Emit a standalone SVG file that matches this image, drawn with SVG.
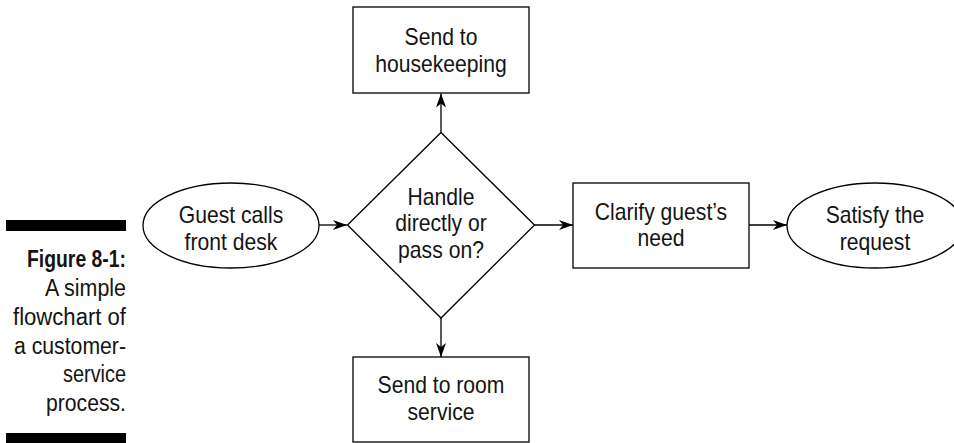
<svg xmlns="http://www.w3.org/2000/svg" width="954" height="443" viewBox="0 0 954 443">
  <style>
    .shape { fill: #ffffff; stroke: #000000; stroke-width: 1.3; }
    .edge { fill: none; stroke: #000000; stroke-width: 1.3; }
    .label { font-family: "Liberation Sans", Arial, sans-serif; font-size: 23px; fill: #141414; text-anchor: middle; }
    .cap { font-family: "Liberation Sans", Arial, sans-serif; font-size: 23px; fill: #141414; text-anchor: end; }
    .cap-b { font-weight: bold; }
  </style>
  <defs>
    <marker id="arrow" markerUnits="userSpaceOnUse" markerWidth="16" markerHeight="12" viewBox="-15 -6 16 12" refX="0" refY="0" orient="auto">
      <path d="M0,0 L-14,-5 L-10,0 L-14,5 Z" fill="#000000"/>
    </marker>
  </defs>

  <rect width="954" height="443" fill="#ffffff"/>

  <!-- caption block -->
  <g id="caption">
    <rect x="6" y="220" width="120" height="11" fill="#000000"/>
    <text class="cap cap-b" x="126" y="267" textLength="99" lengthAdjust="spacingAndGlyphs">Figure 8-1:</text>
    <text class="cap" x="126" y="296" textLength="81" lengthAdjust="spacingAndGlyphs">A simple</text>
    <text class="cap" x="126" y="325" textLength="113" lengthAdjust="spacingAndGlyphs">flowchart of</text>
    <text class="cap" x="126" y="353.5" textLength="112" lengthAdjust="spacingAndGlyphs">a customer-</text>
    <text class="cap" x="126" y="382" textLength="63" lengthAdjust="spacingAndGlyphs">service</text>
    <text class="cap" x="126" y="410.5" textLength="80" lengthAdjust="spacingAndGlyphs">process.</text>
    <rect x="6" y="433" width="120" height="12" fill="#000000"/>
  </g>

  <!-- connectors -->
  <g id="connectors">
    <line class="edge" x1="319" y1="225" x2="347" y2="225" marker-end="url(#arrow)"/>
    <line class="edge" x1="441" y1="133" x2="441" y2="93.5" marker-end="url(#arrow)"/>
    <line class="edge" x1="441" y1="318" x2="441" y2="357" marker-end="url(#arrow)"/>
    <line class="edge" x1="534" y1="225" x2="573" y2="225" marker-end="url(#arrow)"/>
    <line class="edge" x1="749" y1="225" x2="787" y2="225" marker-end="url(#arrow)"/>
  </g>

  <g id="guest-calls">
    <ellipse class="shape" cx="231" cy="225.5" rx="88" ry="42.5"/>
    <g transform="translate(231,0) scale(0.92,1)">
      <text class="label" x="0" y="223">Guest calls</text>
      <text class="label" x="0" y="250">front desk</text>
    </g>
  </g>

  <g id="decision">
    <polygon class="shape" points="441,132.5 534.5,225 441,318 347.5,225"/>
    <g transform="translate(441,0) scale(0.92,1)">
      <text class="label" x="0" y="205">Handle</text>
      <text class="label" x="0" y="231.5">directly or</text>
      <text class="label" x="0" y="258">pass on?</text>
    </g>
  </g>

  <g id="housekeeping">
    <rect class="shape" x="353" y="7" width="176" height="86"/>
    <g transform="translate(441,0) scale(0.92,1)">
      <text class="label" x="0" y="45">Send to</text>
      <text class="label" x="0" y="72">housekeeping</text>
    </g>
  </g>

  <g id="room-service">
    <rect class="shape" x="353" y="357" width="176" height="85"/>
    <g transform="translate(441,0) scale(0.92,1)">
      <text class="label" x="0" y="393">Send to room</text>
      <text class="label" x="0" y="420">service</text>
    </g>
  </g>

  <g id="clarify">
    <rect class="shape" x="573" y="183" width="176" height="85"/>
    <g transform="translate(661,0) scale(0.92,1)">
      <text class="label" x="0" y="220">Clarify guest’s</text>
      <text class="label" x="0" y="246">need</text>
    </g>
  </g>

  <g id="satisfy">
    <ellipse class="shape" cx="875" cy="225.5" rx="88" ry="42.5"/>
    <g transform="translate(875,0) scale(0.92,1)">
      <text class="label" x="0" y="223">Satisfy the</text>
      <text class="label" x="0" y="250">request</text>
    </g>
  </g>
</svg>
